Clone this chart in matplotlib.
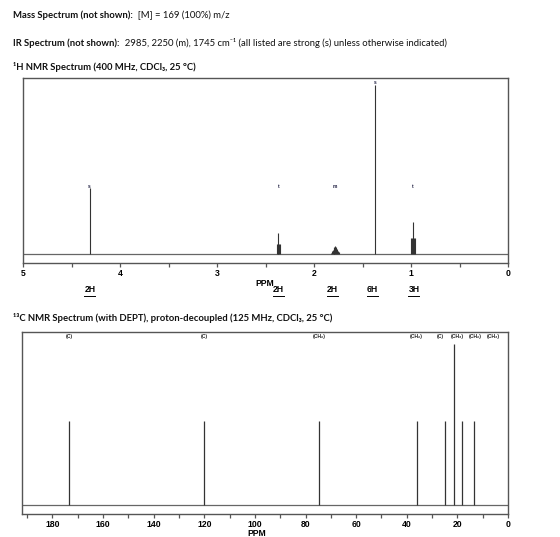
import matplotlib
matplotlib.use("Agg")
import matplotlib.pyplot as plt
from matplotlib.lines import Line2D

W, H = 560, 537

# ---------------- data ----------------
# 1H NMR lines (ppm, relative height)
h_ppm = [4.314,
         2.348, 2.357, 2.366, 2.375, 2.384,
         1.745, 1.755, 1.765, 1.775, 1.783, 1.790, 1.798, 1.806, 1.815, 1.825,
         1.366,
         0.962, 0.970, 0.979, 0.988, 0.996]
h_int = [0.375,
         0.060, 0.060, 0.120, 0.060, 0.060,
         0.010, 0.020, 0.030, 0.040, 0.046, 0.042, 0.036, 0.026, 0.016, 0.008,
         0.960,
         0.090, 0.090, 0.180, 0.090, 0.090]
h_mult_ppm = [4.314, 2.366, 1.787, 1.366, 0.979]
h_mult_lbl = ['s', 't', 'm', 's', 't']
h_mult_y = [0.387, 0.387, 0.387, 0.972, 0.387]
h_integ_ppm = [4.31, 2.37, 1.81, 1.40, 0.97]
h_integ_lbl = ['2H', '2H', '2H', '6H', '3H']
h_ticks = [5, 4, 3, 2, 1, 0]
h_minor = [4.5, 3.5, 2.5, 1.5, 0.5]

# 13C NMR lines
c_ppm = [173.3, 120.0, 74.6, 35.9, 24.9, 21.3, 18.2, 13.4]
c_int = [0.487, 0.487, 0.487, 0.487, 0.487, 0.930, 0.487, 0.487]
c_lbl_ppm = [173.3, 120.0, 74.6, 36.3, 26.8, 20.1, 13.0, 5.9]
c_lbl = ['(C)', '(C)', '(CH₂)', '(CH₂)', '(C)', '(CH₃)', '(CH₂)', '(CH₃)']
c_ticks = [180, 160, 140, 120, 100, 80, 60, 40, 20, 0]
c_minor = [190, 170, 150, 130, 110, 90, 70, 50, 30, 10]

# ---------------- figure ----------------
fig = plt.figure(figsize=(W / 100, H / 100), dpi=100)

def rect(x0, y0, x1, y1):
    return [x0 / W, 1 - y1 / H, (x1 - x0) / W, (y1 - y0) / H]

def fxy(x, y):
    return x / W, 1 - y / H

hdr_font = ['Lato', 'DejaVu Sans']
renderer = fig.canvas.get_renderer()

def mixed(x, y, parts, size=6.8):
    cx = x
    for txt, bold in parts:
        t = fig.text(*fxy(cx, y), txt, fontsize=size, family=hdr_font,
                     fontweight='bold' if bold else 'normal', va='center', ha='left',
                     color='#111111')
        bb = t.get_window_extent(renderer=renderer)
        cx += bb.width

mixed(13, 15, [('Mass Spectrum (not shown):', True), ('  [M] = 169 (100%) m/z', False)])
mixed(13, 43, [('IR Spectrum (not shown):', True),
               ('  2985, 2250 (m), 1745 cm⁻¹ (all listed are strong (s) unless otherwise indicated)', False)])
mixed(13, 67, [('¹H NMR Spectrum (400 MHz, CDCl₃, 25 °C)', True)])
mixed(13, 318, [('¹³C NMR Spectrum (with DEPT), proton-decoupled (125 MHz, CDCl₃, 25 °C)', True)])

spine_col = '#555555'
peak_col = '#333333'
tick_font = dict(family=['Liberation Sans', 'DejaVu Sans'], fontweight='bold', fontsize=6.2)

def style_axes(ax, xlim, major, minor):
    ax.set_xlim(*xlim)
    ax.set_ylim(-0.05, 1.0)
    ax.set_yticks([])
    for s in ax.spines.values():
        s.set_color(spine_col)
        s.set_linewidth(1.0)
    ax.axhline(0, color='#666666', lw=0.9)
    ax.set_xticks(major)
    ax.set_xticks(minor, minor=True)
    ax.set_xticklabels([str(t) for t in major], **tick_font)
    ax.tick_params(axis='x', which='major', direction='out', length=3, width=0.9,
                   color=spine_col, pad=1.5)
    ax.tick_params(axis='x', which='minor', direction='out', length=3, width=0.9,
                   color=spine_col)

# ---- 1H ----
ax1 = fig.add_axes(rect(23, 78, 508, 263))
style_axes(ax1, (5, 0), h_ticks, h_minor)
ax1.vlines(h_ppm, 0, h_int, color=peak_col, lw=0.8)
for p, l, yy in zip(h_mult_ppm, h_mult_lbl, h_mult_y):
    ax1.text(p, yy, l, fontsize=3.5, fontweight='bold', ha='center', va='center',
             family=['Liberation Sans', 'DejaVu Sans'], color='#222244')

fig.canvas.draw()
for p, l in zip(h_integ_ppm, h_integ_lbl):
    xpix = ax1.transData.transform((p, 0))[0]
    t = fig.text(xpix / W, 1 - 290 / H, l, ha='center', va='center', **tick_font)
    bb = t.get_window_extent(renderer=renderer)
    ypix = bb.y0 - 1.2
    fig.add_artist(Line2D([bb.x0 / W, bb.x1 / W], [ypix / H, ypix / H],
                          color='black', lw=0.7, transform=fig.transFigure))
fig.text(*fxy(265, 283), 'PPM', ha='center', va='center', **tick_font)

# ---- 13C ----
ax2 = fig.add_axes(rect(22, 332, 508, 514))
style_axes(ax2, (192, 0), c_ticks, c_minor)
ax2.vlines(c_ppm, 0, c_int, color=peak_col, lw=0.9)
for p, l in zip(c_lbl_ppm, c_lbl):
    ax2.text(p, 0.972, l, fontsize=3.6, fontweight='bold', ha='center', va='center',
             family=['Liberation Sans', 'DejaVu Sans'], color='#222222')
fig.text(*fxy(257, 533), 'PPM', ha='center', va='center', **tick_font)

fig.savefig('out.png', dpi=100)
